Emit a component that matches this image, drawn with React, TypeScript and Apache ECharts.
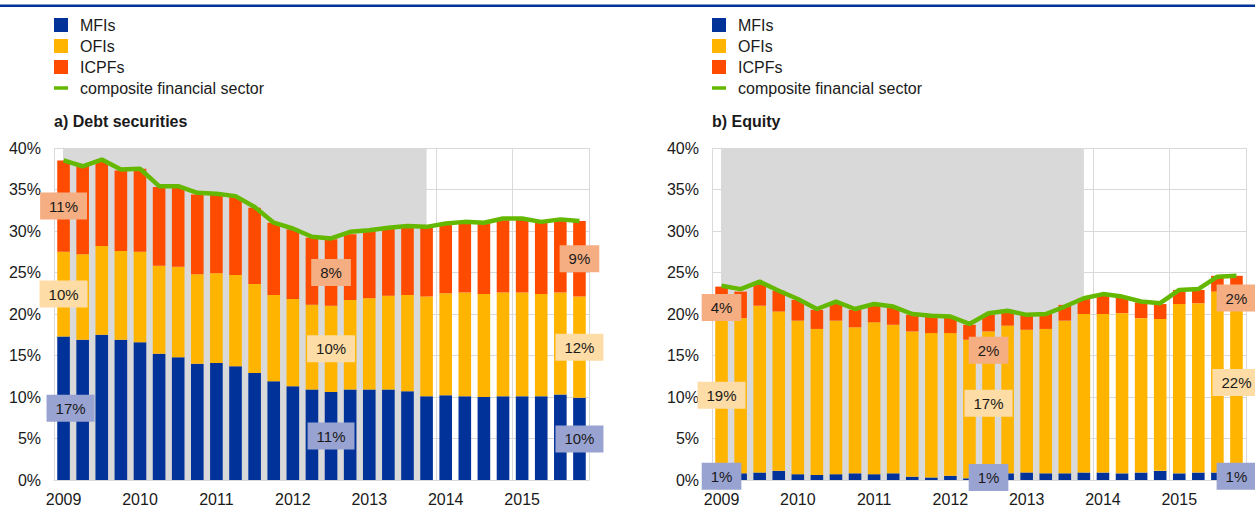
import React, { useEffect, useRef } from "react";
import * as echarts from "echarts";

const categories = [
  "2009 Q1", "2009 Q2", "2009 Q3", "2009 Q4",
  "2010 Q1", "2010 Q2", "2010 Q3", "2010 Q4",
  "2011 Q1", "2011 Q2", "2011 Q3", "2011 Q4",
  "2012 Q1", "2012 Q2", "2012 Q3", "2012 Q4",
  "2013 Q1", "2013 Q2", "2013 Q3", "2013 Q4",
  "2014 Q1", "2014 Q2", "2014 Q3", "2014 Q4",
  "2015 Q1", "2015 Q2", "2015 Q3", "2015 Q4",
];
const shadedFrom = "2009 Q1";
const shadedTo = "2013 Q4";

const yTicks = { min: 0, max: 40, interval: 5 };

// a) Debt securities (percentage points, stacked)
const debtMFIs = [17.3, 16.9, 17.5, 16.9, 16.6, 15.2, 14.8, 14.0, 14.1, 13.7, 12.9, 11.9, 11.3, 10.9, 10.6, 10.9, 10.9, 10.9, 10.7, 10.1, 10.2, 10.1, 10.0, 10.1, 10.1, 10.1, 10.3, 9.9];
const debtOFIs = [10.2, 10.3, 10.7, 10.7, 10.9, 10.6, 10.9, 10.8, 10.8, 11.0, 10.7, 10.4, 10.5, 10.2, 10.4, 10.8, 11.0, 11.3, 11.6, 12.0, 12.3, 12.5, 12.4, 12.5, 12.5, 12.3, 12.3, 12.2];
const debtICPFs = [11.0, 10.8, 10.3, 9.7, 10.0, 9.5, 9.6, 9.6, 9.5, 9.4, 9.2, 8.7, 8.4, 8.1, 8.0, 7.9, 8.1, 8.2, 8.2, 8.3, 8.3, 8.3, 8.5, 8.7, 8.8, 8.6, 8.6, 9.1];
const debtComposite = [38.5, 37.8, 38.6, 37.4, 37.5, 35.4, 35.4, 34.6, 34.5, 34.2, 32.9, 31.0, 30.3, 29.3, 29.1, 29.9, 30.1, 30.4, 30.6, 30.5, 30.9, 31.1, 31.0, 31.5, 31.5, 31.1, 31.4, 31.2];

// b) Equity
const eqMFIs = [0.9, 0.8, 0.9, 1.1, 0.7, 0.6, 0.7, 0.8, 0.7, 0.8, 0.4, 0.3, 0.5, 0.2, 0.6, 0.8, 0.9, 0.8, 0.8, 0.9, 0.9, 0.8, 0.9, 1.1, 0.8, 0.9, 0.9, 0.9];
const eqOFIs = [18.6, 18.7, 20.1, 19.2, 18.5, 17.6, 18.5, 17.6, 18.3, 17.9, 17.5, 17.4, 17.2, 16.7, 17.3, 17.8, 17.2, 17.4, 18.4, 19.1, 19.1, 19.3, 18.6, 18.3, 20.4, 20.4, 21.8, 21.7];
const eqICPFs = [3.8, 3.2, 2.8, 2.5, 2.5, 2.3, 2.2, 2.1, 2.2, 2.1, 2.0, 2.0, 1.9, 1.8, 2.0, 1.9, 2.0, 1.9, 1.9, 1.9, 2.4, 2.0, 1.9, 1.8, 1.7, 1.6, 1.9, 2.0];
const eqComposite = [23.4, 23.0, 23.9, 22.8, 21.8, 20.6, 21.5, 20.6, 21.2, 20.9, 20.0, 19.8, 19.7, 18.8, 20.1, 20.4, 19.9, 20.0, 20.9, 21.9, 22.4, 22.1, 21.5, 21.3, 22.9, 23.0, 24.5, 24.6];

const labelledPoints = [0, 14, 27];

const C = {
  mfi: "#003299",
  ofi: "#ffb400",
  icpf: "#ff4b00",
  green: "#65b800",
  mfiLbl: "#99a3d1",
  ofiLbl: "#fddca5",
  icpfLbl: "#f5ae82",
  shade: "#d9d9d9",
  grid: "#d9d9d9",
  text: "#1a1a1a",
};
const FONT = "'Liberation Sans', Arial, sans-serif";

function withLabels(values: number[], bg: string, offsets: Record<number, number[]> = {}) {
  return values.map((v, i) =>
    labelledPoints.includes(i)
      ? {
          value: v,
          label: {
            show: true,
            position: "inside",
            formatter: (p: any) => Math.round(p.value) + "%",
            backgroundColor: bg,
            padding: [6, 9],
            color: C.text,
            fontSize: 15,
            lineHeight: 15,
            fontFamily: FONT,
            offset: offsets[i] || [0, 0],
          },
        }
      : v
  );
}

export default function App() {
  const ref = useRef<HTMLDivElement>(null);
  useEffect(() => {
    if (!ref.current) return;
    const chart = echarts.init(ref.current, null, { renderer: "svg" });

    const grids = [
      { left: 54, top: 148, width: 535, height: 332 },
      { left: 712, top: 148, width: 534, height: 332 },
    ];
    const catAxes = grids.map((_, gi) => ({
      type: "category",
      gridIndex: gi,
      data: categories,
      boundaryGap: true,
      axisTick: { show: false },
      axisLine: { lineStyle: { color: C.grid, width: 1 } },
      axisLabel: {
        interval: 3,
        formatter: (v: string) => v.slice(0, 4),
        color: C.text,
        fontSize: 16,
        fontFamily: FONT,
        margin: 11,
      },
      splitLine: { show: true, interval: 3, lineStyle: { color: C.grid, width: 1 } },
    }));
    // hidden index axes (category centres) used only for the shaded period
    const idxAxes = grids.map((_, gi) => ({
      type: "value",
      gridIndex: gi,
      min: -0.5,
      max: categories.length - 0.5,
      show: false,
    }));
    const yAxis = grids.map((_, gi) => ({
      type: "value",
      gridIndex: gi,
      min: yTicks.min,
      max: yTicks.max,
      interval: yTicks.interval,
      axisLine: { show: true, lineStyle: { color: C.grid, width: 1 } },
      axisTick: { show: false },
      axisLabel: {
        formatter: "{value}%",
        color: C.text,
        fontSize: 16,
        fontFamily: FONT,
        margin: 13,
      },
      splitLine: { show: true, lineStyle: { color: C.grid, width: 1 } },
    }));

    const s0 = categories.indexOf(shadedFrom);
    const s1 = categories.indexOf(shadedTo);

    const makeSeries = (
      gi: number,
      mfi: number[],
      ofi: number[],
      icpf: number[],
      comp: number[],
      offs: { mfi?: Record<number, number[]>; ofi?: Record<number, number[]>; icpf?: Record<number, number[]> }
    ) => [
      {
        type: "line",
        xAxisIndex: 2 + gi,
        yAxisIndex: gi,
        data: [[s0, 0]],
        symbol: "none",
        silent: true,
        lineStyle: { opacity: 0, width: 0 },
        markArea: {
          silent: true,
          itemStyle: { color: C.shade },
          data: [[{ xAxis: s0 }, { xAxis: s1 }]],
        },
      },
      {
        name: "MFIs",
        type: "bar",
        stack: "s" + gi,
        xAxisIndex: gi,
        yAxisIndex: gi,
        barWidth: "66%",
        itemStyle: { color: C.mfi },
        data: withLabels(mfi, C.mfiLbl, offs.mfi),
      },
      {
        name: "OFIs",
        type: "bar",
        stack: "s" + gi,
        xAxisIndex: gi,
        yAxisIndex: gi,
        barWidth: "66%",
        itemStyle: { color: C.ofi },
        data: withLabels(ofi, C.ofiLbl, offs.ofi),
      },
      {
        name: "ICPFs",
        type: "bar",
        stack: "s" + gi,
        xAxisIndex: gi,
        yAxisIndex: gi,
        barWidth: "66%",
        itemStyle: { color: C.icpf },
        data: withLabels(icpf, C.icpfLbl, offs.icpf),
      },
      {
        name: "composite financial sector",
        type: "line",
        xAxisIndex: gi,
        yAxisIndex: gi,
        symbol: "none",
        z: 5,
        lineStyle: { color: C.green, width: 4.5 },
        itemStyle: { color: C.green },
        data: comp,
      },
    ];

    const legendBase = {
      orient: "vertical",
      top: 17,
      padding: 0,
      itemWidth: 14,
      itemHeight: 14,
      itemGap: 5,
      textStyle: { color: C.text, fontSize: 16, fontFamily: FONT, padding: [0, 0, 0, 7] },
      data: [
        { name: "MFIs", icon: "rect" },
        { name: "OFIs", icon: "rect" },
        { name: "ICPFs", icon: "rect" },
        { name: "composite financial sector", icon: "path://M0,0H16V4H0Z" },
      ],
    };

    chart.setOption({
      animation: false,
      textStyle: { fontFamily: FONT },
      title: [
        {
          text: "a) Debt securities",
          left: 54,
          top: 113,
          padding: 0,
          textStyle: { fontSize: 16, fontWeight: "bold", color: C.text, fontFamily: FONT },
        },
        {
          text: "b) Equity",
          left: 712,
          top: 113,
          padding: 0,
          textStyle: { fontSize: 16, fontWeight: "bold", color: C.text, fontFamily: FONT },
        },
      ],
      legend: [
        { ...legendBase, left: 54 },
        { ...legendBase, left: 712 },
      ],
      grid: grids,
      xAxis: [...catAxes, ...idxAxes],
      yAxis,
      series: [
        ...makeSeries(0, debtMFIs, debtOFIs, debtICPFs, debtComposite, { mfi: { 0: [7, 0] } }),
        ...makeSeries(1, eqMFIs, eqOFIs, eqICPFs, eqComposite, {
          icpf: { 0: [0, 5], 14: [0, 27], 27: [0, 14] },
        }),
      ],
      graphic: [
        {
          type: "rect",
          left: 0,
          top: 4.5,
          shape: { width: 1255, height: 2.5 },
          style: { fill: C.mfi },
          silent: true,
        },
      ],
    });
    return () => chart.dispose();
  }, []);
  return (
    <div
      ref={ref}
      style={{ position: "absolute", left: 0, top: 0, width: 1255, height: 518, background: "#fff" }}
    />
  );
}
